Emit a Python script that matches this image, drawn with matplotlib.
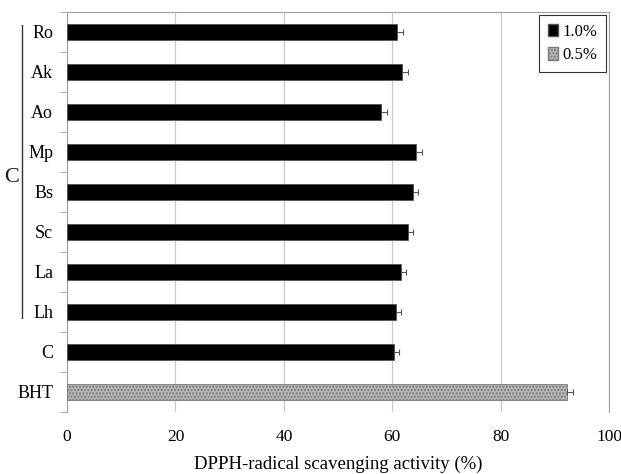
import numpy as np
import matplotlib
matplotlib.use('Agg')
import matplotlib.pyplot as plt
from matplotlib.patches import Patch

plt.rcParams['font.family'] = ['Liberation Serif', 'DejaVu Serif']

labels = ['Ro', 'Ak', 'Ao', 'Mp', 'Bs', 'Sc', 'La', 'Lh', 'C', 'BHT']
values = [60.9, 61.7, 57.9, 64.4, 63.8, 62.8, 61.6, 60.6, 60.3, 92.2]
errors = [1.0, 1.1, 1.1, 1.0, 1.0, 1.0, 1.0, 1.0, 1.0, 1.1]
groups = ['1.0%'] * 9 + ['0.5%']

fig = plt.figure(figsize=(6.21, 4.74), dpi=100)
ax = fig.add_axes([0.108, 0.131, 0.873, 0.844])

ypos = np.arange(len(labels))
for i, (v, e, g) in enumerate(zip(values, errors, groups)):
    if g == '1.0%':
        ax.barh(ypos[i], v, height=0.4, color='black', edgecolor='#555555',
                linewidth=0.6, zorder=3)
    else:
        ax.barh(ypos[i], v, height=0.4, color='#b4b4b4', edgecolor='#7a7a7a',
                hatch='.....', linewidth=0.6, zorder=3)
    ax.errorbar(v, ypos[i], xerr=[[0], [e]], fmt='none', ecolor='#555555',
                elinewidth=0.8, capsize=2.5, capthick=0.8, zorder=4)

ax.set_ylim(9.5, -0.5)
ax.set_xlim(0, 100)
ax.set_yticks(ypos)
ax.set_yticklabels(labels, fontsize=13)
ax.tick_params(axis='y', which='major', length=0, pad=10)
ax.set_yticks(np.arange(-0.5, 10, 1), minor=True)
ax.tick_params(axis='y', which='minor', length=5, color='#999999', direction='out')
ax.set_xticks(np.arange(0, 101, 20))
ax.tick_params(axis='x', length=0, labelsize=12.5, pad=12)
ax.xaxis.grid(True, color='#c8c8c8', linewidth=0.9, zorder=0)
ax.set_axisbelow(True)
for side in ['top', 'right', 'left', 'bottom']:
    ax.spines[side].set_color('#a0a0a0')
ax.spines['bottom'].set_visible(False)
ax.set_xlabel('DPPH-radical scavenging activity (%)', fontsize=13.5, labelpad=8)

# legend
handles = [Patch(facecolor='black', edgecolor='#555555', label='1.0%'),
           Patch(facecolor='#b4b4b4', edgecolor='#7a7a7a', hatch='.....', label='0.5%')]
leg = ax.legend(handles=handles, loc='upper right', fontsize=12, frameon=True,
                fancybox=False, edgecolor='black', handlelength=0.6,
                handleheight=0.8, handletextpad=0.3, borderpad=0.5,
                labelspacing=0.45, borderaxespad=0.2, bbox_to_anchor=(1.0, 1.0))
leg.get_frame().set_linewidth(0.8)

# bracket for the C group
fig.add_artist(plt.Line2D([22 / 621, 22 / 621], [1 - 25 / 474, 1 - 318 / 474],
                          color='#333333', linewidth=1.0))
fig.text(12 / 621, 1 - 177 / 474, 'C', fontsize=16, color='#111a33',
         ha='center', va='center')

fig.savefig('out.png', dpi=100)
